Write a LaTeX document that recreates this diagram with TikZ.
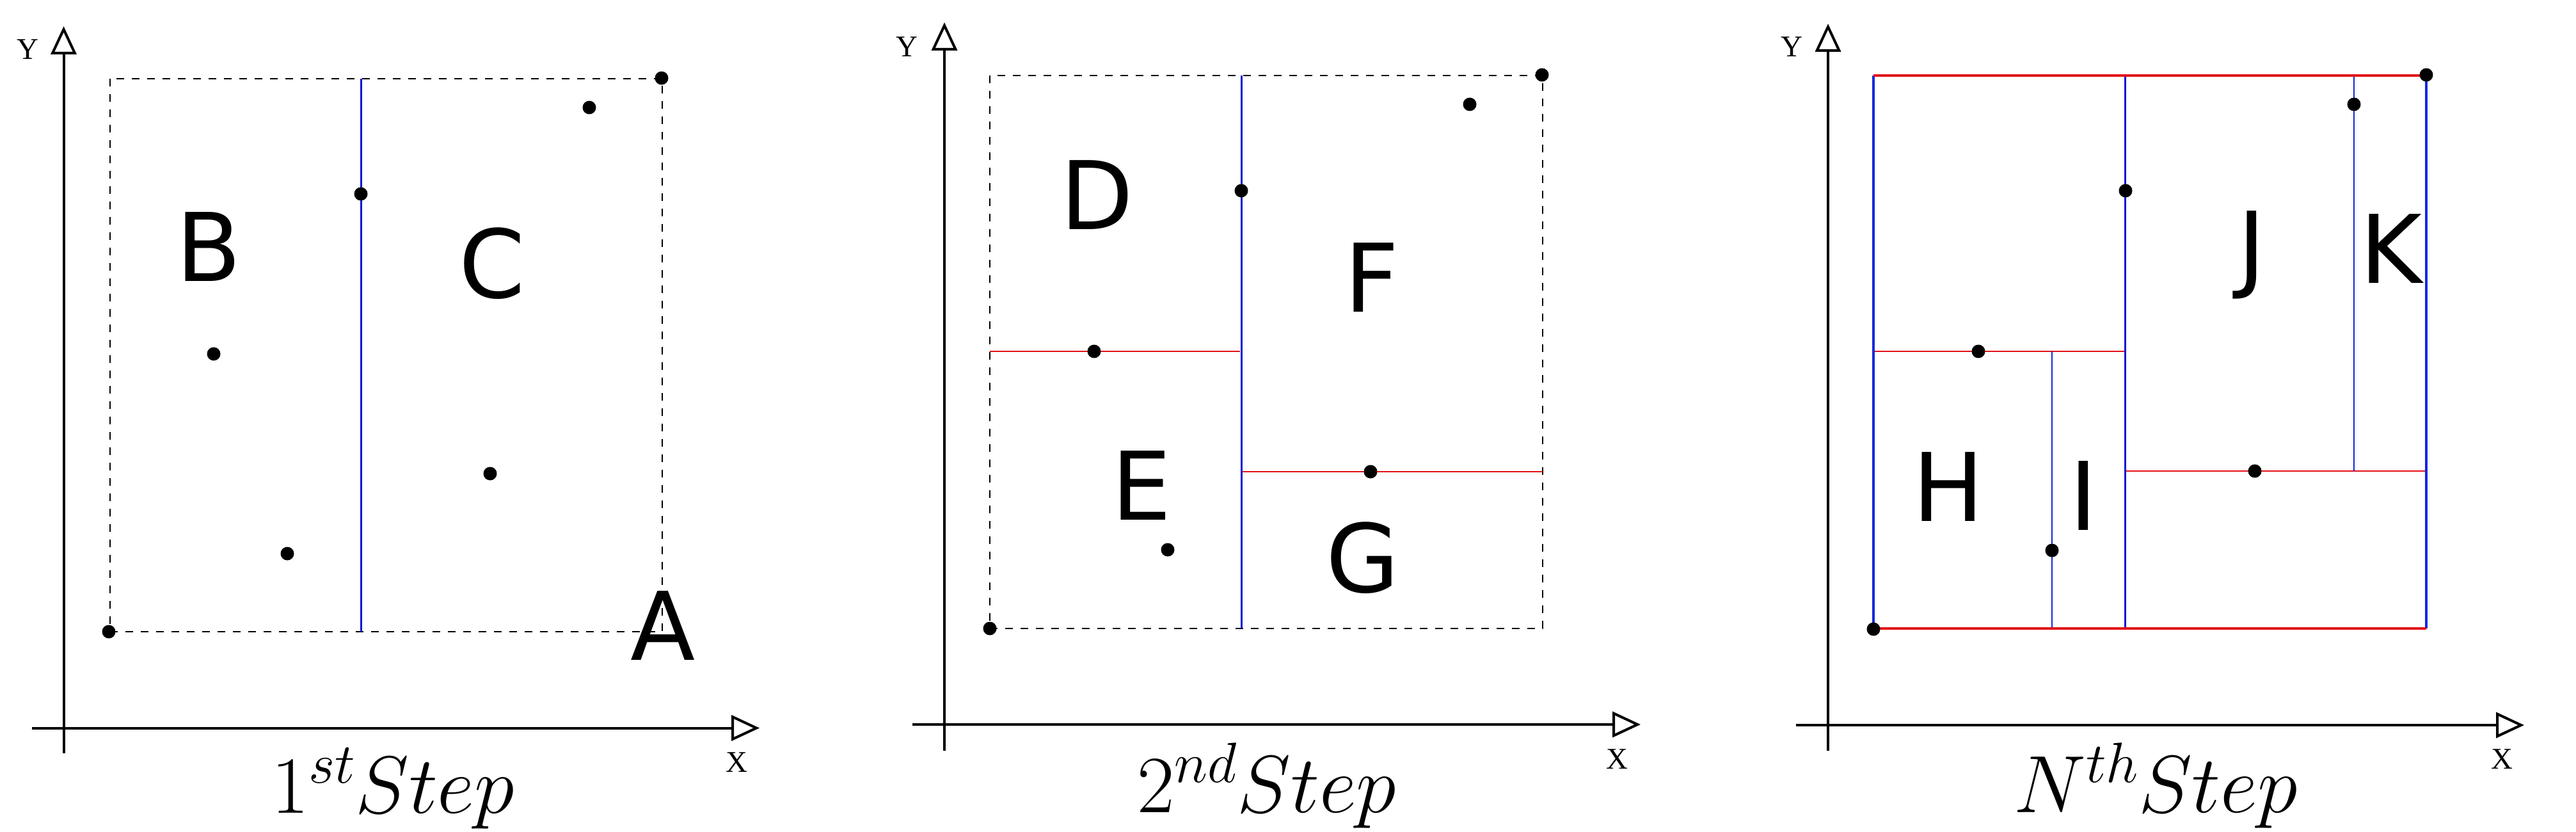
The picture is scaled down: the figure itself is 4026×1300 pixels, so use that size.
\RequirePackage{fix-cm}
\documentclass[tikz,border=0pt]{standalone}
\usepackage{fontspec}
\newfontfamily\letterfont{DejaVu Sans}
\newfontfamily\axisfont{Liberation Serif}
\usetikzlibrary{arrows.meta}
\definecolor{kdred}{RGB}{226,18,22}
\definecolor{kdblue}{RGB}{18,40,222}
\definecolor{kdblueB}{RGB}{12,22,210}
\tikzset{
  axisline/.style={line width=4pt, line cap=round, -{Triangle[open,length=44pt,width=40pt,line width=4pt]}},
  plainaxis/.style={line width=4pt},
  dot/.style={circle, fill=black, inner sep=0pt, minimum size=21pt},
  region/.style={inner sep=0pt, font=\letterfont\fontsize{148}{150}\selectfont},
  axlabel/.style={inner sep=0pt, font=\axisfont\fontsize{47}{50}\selectfont},
  steplabel/.style={inner sep=0pt, anchor=base, font=\fontsize{127}{130}\selectfont},
  cell/.style={black, line width=2.6pt, dash pattern=on 12pt off 12pt},
  splitv/.style={kdblueB, line width=3pt},
  splith/.style={kdred, line width=2pt},
  thinv/.style={kdblue, line width=2.2pt},
  thickh/.style={kdred, line width=4.5pt},
  thickv/.style={kdblue, line width=4.5pt},
}
\begin{document}
\begin{tikzpicture}[x=1pt,y=-1pt]
\useasboundingbox (0,0) rectangle (4026,1300);

% ================= Panel 1 =================
\coordinate (o1) at (99.5,1137.5);
\coordinate (y1b) at (99.5,1177);
\coordinate (y1t) at (99.5,41);
\coordinate (x1l) at (50,1137.5);
\coordinate (x1r) at (1187,1137.5);
\draw[plainaxis] (y1b) -- (o1);
\draw[axisline] (o1) -- (y1t);
\draw[plainaxis] (x1l) -- (o1);
\draw[axisline] (o1) -- (x1r);
\node[axlabel] (ylab1) at (43,77) {Y};
\node[axlabel] (xlab1) at (1151,1191) {X};

\coordinate (r1a) at (172,123);
\coordinate (r1b) at (1035,987);
\draw[cell] (r1a) rectangle (r1b);
\coordinate (s1t) at (564,123);
\coordinate (s1b) at (564,987);
\draw[splitv] (s1t) -- (s1b);

\node[dot] (p1a) at (1034,122) {};
\node[dot] (p1b) at (921,168) {};
\node[dot] (p1c) at (564,303) {};
\node[dot] (p1d) at (334,553) {};
\node[dot] (p1e) at (766,740) {};
\node[dot] (p1f) at (449,865) {};
\node[dot] (p1g) at (170,987) {};

\node[region] (B) at (326,386) {B};
\node[region] (C) at (769,412) {C};
\node[region] (A) at (1036,978) {A};
\node[steplabel] (st1) at (614,1270) {$1^{st}Step$};

% ================= Panel 2 =================
\coordinate (o2) at (1476,1132);
\coordinate (y2b) at (1476,1173);
\coordinate (y2t) at (1476,35);
\coordinate (x2l) at (1426,1132);
\coordinate (x2r) at (2564,1132);
\draw[plainaxis] (y2b) -- (o2);
\draw[axisline] (o2) -- (y2t);
\draw[plainaxis] (x2l) -- (o2);
\draw[axisline] (o2) -- (x2r);
\node[axlabel] (ylab2) at (1417,73) {Y};
\node[axlabel] (xlab2) at (2527,1186) {X};

\coordinate (r2a) at (1547,118);
\coordinate (r2b) at (2411,982);
\draw[cell] (r2a) rectangle (r2b);
\coordinate (s2t) at (1940,118);
\coordinate (s2b) at (1940,982);
\coordinate (h2l) at (1547,549);
\coordinate (h2m) at (1938,549);
\coordinate (g2l) at (1942,737);
\coordinate (g2r) at (2411,737);
\draw[splith] (h2l) -- (h2m);
\draw[splith] (g2l) -- (g2r);
\draw[splitv] (s2t) -- (s2b);

\node[dot] (p2a) at (2410,117) {};
\node[dot] (p2b) at (2297,163) {};
\node[dot] (p2c) at (1940,298) {};
\node[dot] (p2d) at (1710,549) {};
\node[dot] (p2e) at (2142,737) {};
\node[dot] (p2f) at (1825,859) {};
\node[dot] (p2g) at (1547,982) {};

\node[region] (D) at (1714,305) {D};
\node[region] (F) at (2144,434) {F};
\node[region] (E) at (1784,759) {E};
\node[region] (G) at (2130,872) {G};
\node[steplabel] (st2) at (1980,1269) {$2^{nd}Step$};

% ================= Panel 3 =================
\coordinate (o3) at (2857,1133);
\coordinate (y3b) at (2857,1173);
\coordinate (y3t) at (2857,37);
\coordinate (x3l) at (2807,1133);
\coordinate (x3r) at (3945,1133);
\draw[plainaxis] (y3b) -- (o3);
\draw[axisline] (o3) -- (y3t);
\draw[plainaxis] (x3l) -- (o3);
\draw[axisline] (o3) -- (x3r);
\node[axlabel] (ylab3) at (2800,73) {Y};
\node[axlabel] (xlab3) at (3910,1186) {X};

\coordinate (tl3) at (2928,118);
\coordinate (tr3) at (3792,118);
\coordinate (bl3) at (2928,982);
\coordinate (br3) at (3792,982);
\coordinate (s3t) at (3321,118);
\coordinate (s3b) at (3321,982);
\coordinate (h3l) at (2928,549);
\coordinate (h3m) at (3321,549);
\coordinate (v3t) at (3207,549);
\coordinate (v3b) at (3207,982);
\coordinate (g3l) at (3321,736);
\coordinate (g3r) at (3792,736);
\coordinate (k3t) at (3679,118);
\coordinate (k3b) at (3679,736);
\draw[splith] (h3l) -- (h3m);
\draw[splith] (g3l) -- (g3r);
\draw[thinv] (v3t) -- (v3b);
\draw[thinv] (k3t) -- (k3b);
\draw[splitv] (s3t) -- (s3b);
\draw[thickv] (tl3) -- (bl3);
\draw[thickv] (tr3) -- (br3);
\draw[thickh] (tl3) -- (tr3);
\draw[thickh] (bl3) -- (br3);

\node[dot] (p3a) at (3792,117) {};
\node[dot] (p3b) at (3679,163) {};
\node[dot] (p3c) at (3322,298) {};
\node[dot] (p3d) at (3092,549) {};
\node[dot] (p3e) at (3524,736) {};
\node[dot] (p3f) at (3207,860) {};
\node[dot] (p3g) at (2928,983) {};

\node[region] (H) at (3045,761) {H};
\node[region] (I) at (3256,775) {I};
\node[region] (J) at (3519,398) {J};
\node[region] (K) at (3737,389) {K};
\node[steplabel] (st3) at (3369,1269) {$N^{th}Step$};
\end{tikzpicture}
\end{document}
